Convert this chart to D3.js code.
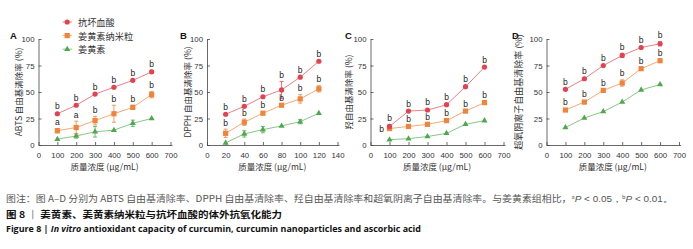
<!DOCTYPE html>
<html><head><meta charset="utf-8">
<script src="https://cdn.jsdelivr.net/npm/d3@7/dist/d3.min.js"></script>
<style>body{margin:0;background:#fff}svg{display:block}</style>
</head><body>
<script>
// ---- data ----
const seriesNames = ["抗坏血酸", "姜黄素纳米粒", "姜黄素"];
const concA = [100, 200, 300, 400, 500, 600];
const concB = [20, 40, 60, 80, 100, 120];
const xTicksA = [0, 100, 200, 300, 400, 500, 600, 700];
const xTicksB = [0, 20, 40, 60, 80, 100, 120, 140];
const yTicks = [0, 25, 50, 75, 100];

const abtsVC   = [29.5, 37.5, 48, 54.5, 61, 69];
const abtsNano = [13.5, 16.5, 23, 29.5, 35.5, 47.5];
const abtsCur  = [5.5, 8.5, 12.5, 14, 20.5, 25];
const abtsVCErr   = [1, 1, 1, 1, 1, 1.5];
const abtsNanoErr = [2, 6, 4, 8, 2, 3];
const abtsCurErr  = [1, 2, 5, 1, 3, 1];
const abtsVCSig   = ["b","b","b","b","b","b"];
const abtsNanoSig = ["a","a","b","b","b","b"];

const dpphVC   = [29, 36.5, 45.5, 52, 64, 79];
const dpphNano = [11, 21.5, 30, 37.5, 43.5, 53];
const dpphCur  = [2, 10.5, 14.5, 18, 22, 30];
const dpphVCErr   = [1, 1, 1, 8, 1, 1];
const dpphNanoErr = [4, 3, 1.5, 1, 4, 3];
const dpphCurErr  = [1, 3, 3, 1, 2, 1];
const dpphVCSig   = ["b","b","b","b","b","b"];
const dpphNanoSig = ["b","b","b","b","b","b"];

const ohVC   = [17.5, 32, 33, 38, 55, 73.5];
const ohNano = [15.5, 17.5, 19.5, 23, 32, 40];
const ohCur  = [5, 6, 8, 11, 19.5, 23];
const ohVCErr   = [1.5, 1, 1, 1, 1, 1];
const ohNanoErr = [1, 1, 1, 1, 1, 1];
const ohCurErr  = [0.8, 0.8, 0.8, 0.8, 0.8, 0.8];
const ohVCSig   = ["b","b","b","b","b","b"];
const ohNanoSig = ["b","b","b","b","b","b"];

const supVC   = [52.5, 62.5, 75, 84.5, 92, 95.5];
const supNano = [33, 40.5, 51.5, 58.5, 72, 79.5];
const supCur  = [16.5, 25.5, 31.5, 40.5, 52, 57];
const supVCErr   = [1, 1, 1, 2, 1, 2];
const supNanoErr = [1, 1.5, 1, 3, 1, 1];
const supCurErr  = [0.8, 0.8, 0.8, 0.8, 0.8, 0.8];
const supVCSig   = ["b","b","b","b","b","b"];
const supNanoSig = ["b","b","b","b","b","b"];

const panelLetters = ["A", "B", "C", "D"];
const yTitles = ["ABTS 自由基清除率 (%)", "DPPH 自由基清除率 (%)", "羟自由基清除率 (%)", "超氧阴离子自由基清除率 (%)"];
const xTitle = "质量浓度 (μg/mL)";

// ---- styling / layout ----
const W = 693, H = 249;
const colors = ["#e2434f", "#f0843a", "#4fa84d"];
const lineColors = ["#e8707a", "#f3a066", "#7cc07a"];
const svg = d3.select("body").append("svg").attr("width", W).attr("height", H);
const NUM = "Liberation Sans, Arial, sans-serif";
const CJK = "Noto Sans CJK SC, sans-serif";

const panels = [
  {conc: concA, ticks: xTicksA, xmax: 700, range: [38.5, 170.5], ax: 18, lx: 10,
   vals: [abtsVC, abtsNano, abtsCur], errs: [abtsVCErr, abtsNanoErr, abtsCurErr], sig: [abtsVCSig, abtsNanoSig]},
  {conc: concB, ticks: xTicksB, xmax: 140, range: [207, 337.5], ax: 187, lx: 180,
   vals: [dpphVC, dpphNano, dpphCur], errs: [dpphVCErr, dpphNanoErr, dpphCurErr], sig: [dpphVCSig, dpphNanoSig]},
  {conc: concA, ticks: xTicksA, xmax: 700, range: [370.5, 503.5], ax: 348, lx: 345,
   vals: [ohVC, ohNano, ohCur], errs: [ohVCErr, ohNanoErr, ohCurErr], sig: [ohVCSig, ohNanoSig]},
  {conc: concA, ticks: xTicksA, xmax: 700, range: [546.5, 679], ax: 518, lx: 512,
   vals: [supVC, supNano, supCur], errs: [supVCErr, supNanoErr, supCurErr], sig: [supVCSig, supNanoSig]}
];
const y = d3.scaleLinear().domain([0, 100]).range([145, 39]);

function marker(g, k, cx, cy) {
  if (k === 0) g.append("circle").attr("cx", cx).attr("cy", cy).attr("r", 2.6).attr("fill", colors[0]);
  else if (k === 1) g.append("rect").attr("x", cx - 2.6).attr("y", cy - 2.6).attr("width", 5.2).attr("height", 5.2).attr("fill", colors[1]);
  else g.append("path").attr("d", d3.symbol(d3.symbolTriangle, 16)()).attr("transform", `translate(${cx},${cy})`).attr("fill", colors[2]);
}

panels.forEach((p, pi) => {
  const x = d3.scaleLinear().domain([0, p.xmax]).range(p.range);
  const g = svg.append("g");
  // axes
  const xa = g.append("g").attr("transform", "translate(0,145)")
    .call(d3.axisBottom(x).tickValues(p.ticks).tickSize(-3).tickSizeOuter(0).tickPadding(7));
  const ya = g.append("g").attr("transform", `translate(${p.range[0]},0)`)
    .call(d3.axisLeft(y).tickValues(yTicks).tickSize(-3).tickSizeOuter(0).tickPadding(4));
  [xa, ya].forEach(a => {
    a.selectAll("path,line").attr("stroke", "#444").attr("stroke-width", 0.8);
    a.selectAll("text").attr("font-family", NUM).attr("font-size", 7.8).attr("fill", "#333");
  });
  // extend x axis line slightly
  g.append("line").attr("x1", p.range[1]).attr("x2", p.range[1] + 2).attr("y1", 145.5).attr("y2", 145.5).attr("stroke", "#444").attr("stroke-width", 0.8);

  // series
  [2, 1, 0].forEach(k => {
    const v = p.vals[k], e = p.errs[k];
    const line = d3.line().x((d, i) => x(p.conc[i])).y(d => y(d));
    g.append("path").attr("d", line(v)).attr("fill", "none").attr("stroke", lineColors[k]).attr("stroke-width", 0.9);
    v.forEach((d, i) => {
      const cx = x(p.conc[i]);
      if (e[i] >= 1.5) {
        g.append("line").attr("x1", cx).attr("x2", cx).attr("y1", y(d - e[i])).attr("y2", y(d + e[i])).attr("stroke", colors[k]).attr("stroke-width", 0.8);
        [d - e[i], d + e[i]].forEach(t => g.append("line").attr("x1", cx - 2).attr("x2", cx + 2).attr("y1", y(t)).attr("y2", y(t)).attr("stroke", colors[k]).attr("stroke-width", 0.8));
      }
      marker(g, k, cx, y(d));
    });
  });
  // significance labels
  [0, 1].forEach(k => {
    p.sig[k].forEach((s, i) => {
      const v = p.vals[k][i], e = Math.max(p.errs[k][i], 1);
      let tx = x(p.conc[i]), ty = y(v + e) - 3.5;
      if (pi === 2 && k === 1 && i === 0) { tx = x(p.conc[i]) - 8; ty = y(v) + 3; }
      g.append("text").attr("x", tx).attr("y", ty).attr("text-anchor", "middle")
        .attr("font-family", NUM).attr("font-size", 8.5).attr("fill", "#222").text(s);
    });
  });
  // panel letter
  svg.append("text").attr("x", p.lx).attr("y", 38.5).attr("font-family", NUM).attr("font-weight", "bold")
    .attr("font-size", 9.5).attr("fill", "#111").text(panelLetters[pi]);
  // y title
  svg.append("text").attr("transform", `translate(${p.ax},92) rotate(-90)`).attr("text-anchor", "middle")
    .attr("dominant-baseline", "central").attr("font-family", CJK).attr("font-size", pi === 3 ? 9 : 8.5).attr("fill", "#333").text(yTitles[pi]);
  // x title
  svg.append("text").attr("x", (p.range[0] + p.range[1]) / 2).attr("y", 170).attr("text-anchor", "middle")
    .attr("font-family", CJK).attr("font-size", 8.5).attr("fill", "#333").text(xTitle);
});

// legend
const leg = svg.append("g");
seriesNames.forEach((n, k) => {
  const ly = 22 + k * 13.6;
  leg.append("line").attr("x1", 62.5).attr("x2", 72).attr("y1", ly).attr("y2", ly).attr("stroke", lineColors[k]).attr("stroke-width", 0.9);
  marker(leg, k, 67.2, ly);
  leg.append("text").attr("x", 78).attr("y", ly).attr("dominant-baseline", "central")
    .attr("font-family", CJK).attr("font-size", 9.2).attr("fill", "#333").text(n);
});

// captions
const cap1 = svg.append("text").attr("x", 6).attr("y", 201.5).attr("font-family", CJK).attr("font-size", 8.8).attr("fill", "#555")
  .attr("textLength", 667).attr("lengthAdjust", "spacingAndGlyphs");
cap1.append("tspan").text("图注：图 A–D 分别为 ABTS 自由基清除率、DPPH 自由基清除率、羟自由基清除率和超氧阴离子自由基清除率。与姜黄素组相比，");
cap1.append("tspan").attr("font-size", 5).attr("dy", -3).text("a");
cap1.append("tspan").attr("font-style", "italic").attr("font-family", NUM).attr("dy", 3).text("P");
cap1.append("tspan").attr("font-family", NUM).text(" < 0.05，");
cap1.append("tspan").attr("font-size", 5).attr("dy", -3).text("b");
cap1.append("tspan").attr("font-style", "italic").attr("font-family", NUM).attr("dy", 3).text("P");
cap1.append("tspan").attr("font-family", NUM).text(" < 0.01。");

svg.append("text").attr("x", 6).attr("y", 217.5).attr("font-family", CJK).attr("font-weight", "bold").attr("font-size", 9.5).attr("fill", "#111")
  .attr("textLength", 276).attr("lengthAdjust", "spacingAndGlyphs").text("图 8 ｜ 姜黄素、姜黄素纳米粒与抗坏血酸的体外抗氧化能力");

const cap3 = svg.append("text").attr("x", 6).attr("y", 231.5).attr("font-family", "Open Sans, sans-serif").attr("font-weight", "bold").attr("font-size", 9).attr("fill", "#111")
  .attr("textLength", 415).attr("lengthAdjust", "spacingAndGlyphs");
cap3.append("tspan").text("Figure 8  |  ");
cap3.append("tspan").attr("font-style", "italic").text("In vitro");
cap3.append("tspan").text(" antioxidant capacity of curcumin, curcumin nanoparticles and ascorbic acid");
</script>
</body></html>
